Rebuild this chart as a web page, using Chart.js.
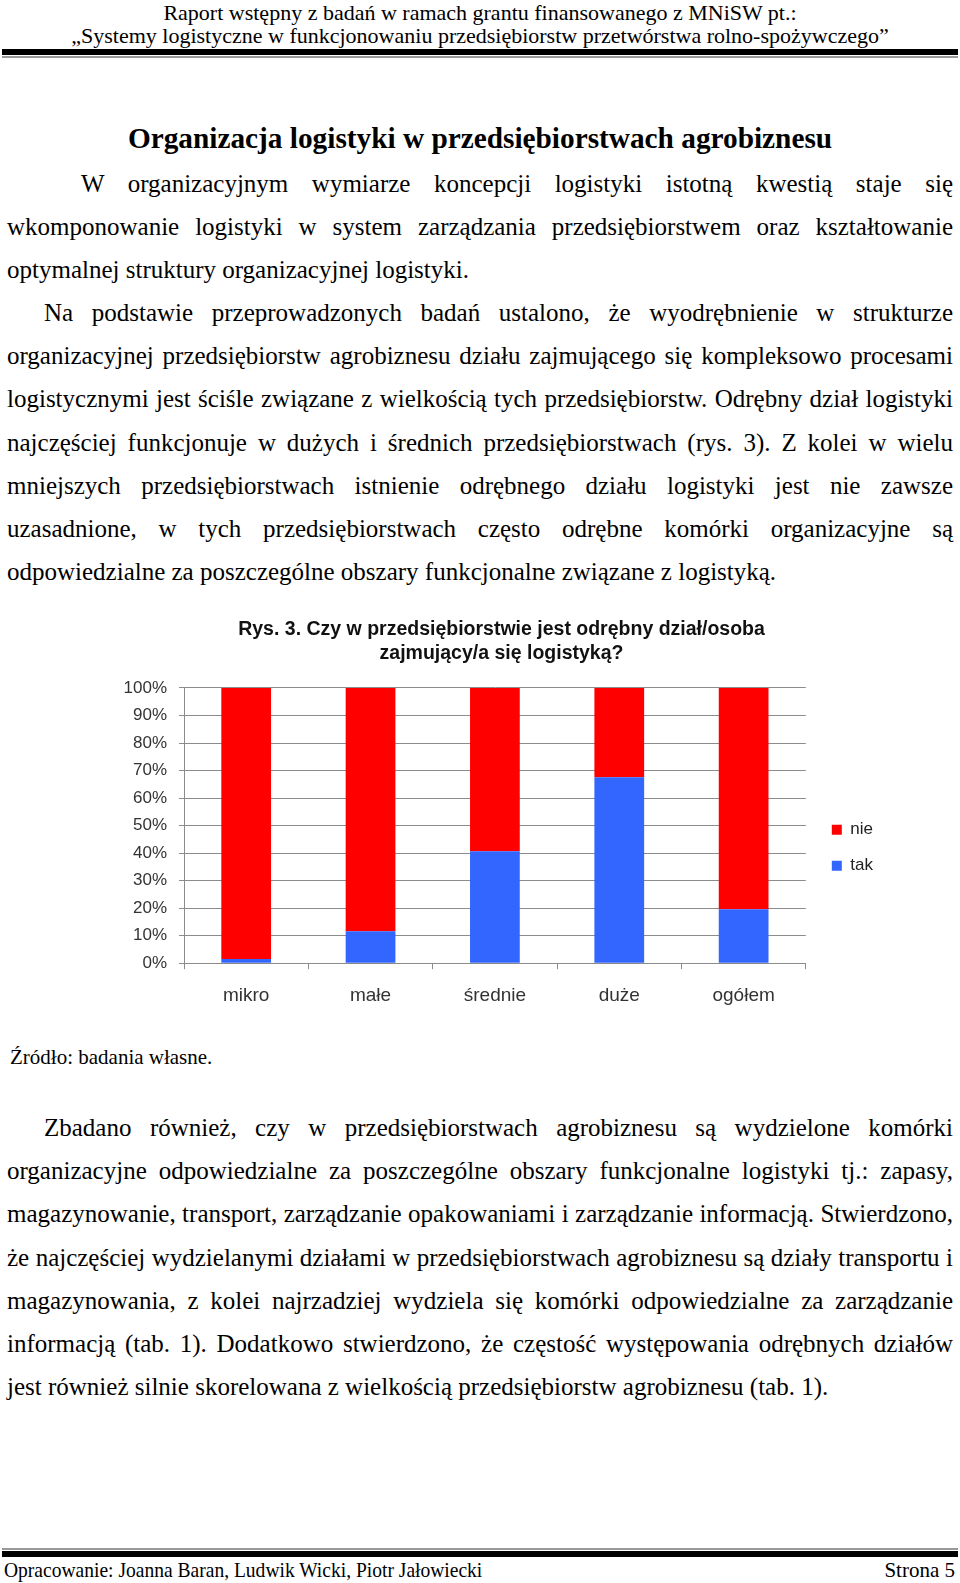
<!DOCTYPE html>
<html lang="pl">
<head>
<meta charset="utf-8">
<title>Rys. 3</title>
<script src="https://cdn.jsdelivr.net/npm/chart.js@4.4.1/dist/chart.umd.min.js"></script>
<style>
  html, body { margin: 0; padding: 0; background: #fff; }
  body { width: 960px; height: 1583px; position: relative; overflow: hidden; font-family: 'Liberation Serif', 'Times New Roman', serif; color: #000; }
  .hdr { position: absolute; left: 0; width: 960px; text-align: center; font-size: 22px; line-height: 24px; white-space: nowrap; }
  .rule { position: absolute; left: 2px; width: 956px; }
  .ln { position: absolute; left: 7px; width: 946px; height: 43px; line-height: 43px; font-size: 25px; white-space: nowrap; text-align: justify; text-align-last: justify; }
  .ln.last { text-align: left; text-align-last: left; }
  h1 { position: absolute; left: 0; top: 120px; width: 960px; margin: 0; text-align: center; font-size: 29.3px; line-height: 36px; font-weight: bold; }
  #chartBox { position: absolute; left: 120px; top: 600px; }
  .foot { position: absolute; top: 1558px; font-size: 21px; line-height: 24px; white-space: nowrap; }
</style>
</head>
<body>
<div class="hdr" style="top:1px">Raport wstępny z badań w ramach grantu finansowanego z MNiSW pt.:</div>
<div class="hdr" style="top:24px">„Systemy logistyczne w funkcjonowaniu przedsiębiorstw przetwórstwa rolno-spożywczego”</div>
<div class="rule" style="top:49px;height:6px;background:#000"></div>
<div class="rule" style="top:56px;height:2px;background:#999"></div>

<h1>Organizacja logistyki w przedsiębiorstwach agrobiznesu</h1>

<div class="ln" style="top:162px;left:81px;width:872px">W organizacyjnym wymiarze koncepcji logistyki istotną kwestią staje się</div>
<div class="ln" style="top:205px">wkomponowanie logistyki w system zarządzania przedsiębiorstwem oraz kształtowanie</div>
<div class="ln last" style="top:248px">optymalnej struktury organizacyjnej logistyki.</div>
<div class="ln" style="top:291px;left:44px;width:909px">Na podstawie przeprowadzonych badań ustalono, że wyodrębnienie w strukturze</div>
<div class="ln" style="top:334px">organizacyjnej przedsiębiorstw agrobiznesu działu zajmującego się kompleksowo procesami</div>
<div class="ln" style="top:377px">logistycznymi jest ściśle związane z wielkością tych przedsiębiorstw. Odrębny dział logistyki</div>
<div class="ln" style="top:421px">najczęściej funkcjonuje w dużych i średnich przedsiębiorstwach (rys. 3). Z kolei w wielu</div>
<div class="ln" style="top:464px">mniejszych przedsiębiorstwach istnienie odrębnego działu logistyki jest nie zawsze</div>
<div class="ln" style="top:507px">uzasadnione, w tych przedsiębiorstwach często odrębne komórki organizacyjne są</div>
<div class="ln last" style="top:550px">odpowiedzialne za poszczególne obszary funkcjonalne związane z logistyką.</div>

<div id="chartBox"><canvas id="chartRys3" width="763" height="422"></canvas></div>

<div class="ln last" style="top:1036px;left:10px;font-size:21px">Źródło: badania własne.</div>

<div class="ln" style="top:1106px;left:44px;width:909px">Zbadano również, czy w przedsiębiorstwach agrobiznesu są wydzielone komórki</div>
<div class="ln" style="top:1149px">organizacyjne odpowiedzialne za poszczególne obszary funkcjonalne logistyki tj.: zapasy,</div>
<div class="ln" style="top:1192px">magazynowanie, transport, zarządzanie opakowaniami i zarządzanie informacją. Stwierdzono,</div>
<div class="ln" style="top:1236px">że najczęściej wydzielanymi działami w przedsiębiorstwach agrobiznesu są działy transportu i</div>
<div class="ln" style="top:1279px">magazynowania, z kolei najrzadziej wydziela się komórki odpowiedzialne za zarządzanie</div>
<div class="ln" style="top:1322px">informacją (tab. 1). Dodatkowo stwierdzono, że częstość występowania odrębnych działów</div>
<div class="ln last" style="top:1365px">jest również silnie skorelowana z wielkością przedsiębiorstw agrobiznesu (tab. 1).</div>

<div class="rule" style="top:1548px;height:2px;background:#999"></div>
<div class="rule" style="top:1551px;height:6px;background:#000"></div>
<div class="foot" style="left:4px;transform:scaleX(0.93);transform-origin:0 0">Opracowanie: Joanna Baran, Ludwik Wicki, Piotr Jałowiecki</div>
<div class="foot" style="right:5px">Strona 5</div>

<script>
// Rys. 3 – udział przedsiębiorstw z odrębnym działem logistyki (%)
const categories = ['mikro', 'małe', 'średnie', 'duże', 'ogółem'];
const takValues = [1.5, 11.6, 40.7, 67.6, 19.6];
const nieValues = [98.5, 88.4, 59.3, 32.4, 80.4];
const yTicks = [0, 10, 20, 30, 40, 50, 60, 70, 80, 90, 100];
const chartTitle = ['Rys. 3. Czy w przedsiębiorstwie jest odrębny dział/osoba', 'zajmujący/a się logistyką?'];

const gridColor = '#8c8c8c';
const labelFont = { family: "'Liberation Sans', Arial, sans-serif" };

new Chart(document.getElementById('chartRys3'), {
  type: 'bar',
  data: {
    labels: categories,
    datasets: [
      { label: 'tak', data: takValues, backgroundColor: '#3366ff', barPercentage: 0.4, categoryPercentage: 1 },
      { label: 'nie', data: nieValues, backgroundColor: '#ff0000', barPercentage: 0.4, categoryPercentage: 1 }
    ]
  },
  options: {
    responsive: false,
    animation: false,
    devicePixelRatio: 1,
    layout: { padding: 0 },
    plugins: {
      title: {
        display: true,
        text: chartTitle,
        color: '#111',
        font: { ...labelFont, size: 19.5, weight: 'bold', lineHeight: 1.23 },
        padding: { top: 18, bottom: 22 }
      },
      legend: {
        position: 'right',
        fullSize: false,
        reverse: true,
        // empty title only pushes the two items down a bit
        title: { display: true, text: ' ', font: { size: 12 }, padding: 15 },
        labels: { boxWidth: 10, boxHeight: 10, padding: 19, color: '#222', font: { ...labelFont, size: 17 } }
      },
      tooltip: { enabled: false }
    },
    scales: {
      x: {
        stacked: true,
        grid: { display: true, drawOnChartArea: false, drawTicks: true, tickLength: 6, color: gridColor },
        border: { display: true, color: gridColor },
        ticks: { padding: 15, color: '#333', font: { ...labelFont, size: 19 } }
      },
      y: {
        stacked: true,
        min: 0,
        max: 100,
        afterFit: s => { s.width = 64; },
        afterBuildTicks: s => { s.ticks = yTicks.map(v => ({ value: v })); },
        grid: { color: gridColor, tickLength: 5 },
        border: { display: true, color: gridColor },
        ticks: { padding: 12, color: '#333', font: { ...labelFont, size: 17 }, callback: v => v + '%' }
      },
      // spacer between plot and legend
      gap: {
        position: 'right',
        display: true,
        afterFit: s => { s.width = 7; },
        grid: { display: false },
        border: { display: false },
        ticks: { display: false }
      }
    }
  }
});
</script>
</body>
</html>
